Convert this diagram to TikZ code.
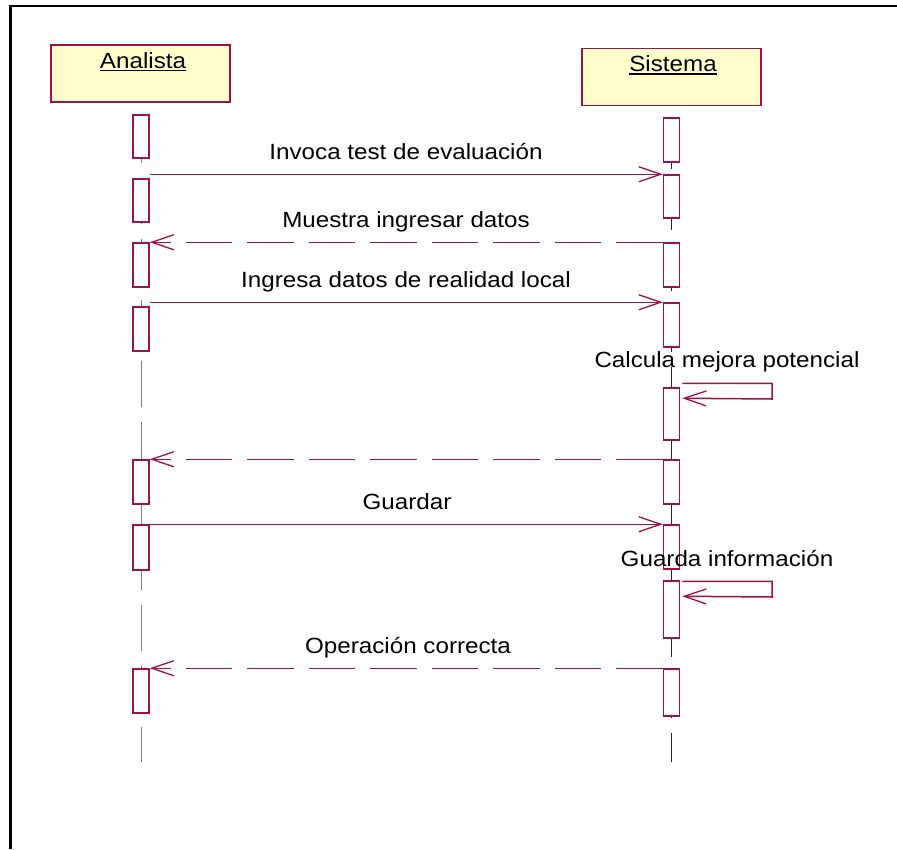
\documentclass[tikz,border=0pt]{standalone}
\usepackage{fontspec}
\setmainfont{Liberation Sans}[FakeStretch=1.1]
\usetikzlibrary{arrows.meta}
\definecolor{umlred}{RGB}{158,18,72}
\definecolor{objfill}{RGB}{255,255,204}
\tikzset{
  obj/.style={draw=umlred, fill=objfill, line width=1.5pt, minimum width=179pt, minimum height=57pt, inner sep=0pt},
  objname/.style={inner sep=0pt, anchor=base, font=\fontsize{22}{26}\selectfont},
  act/.style={draw=umlred, fill=white, line width=1.5pt, minimum width=16pt, inner sep=0pt},
  lifeA/.style={draw=black!50, line width=1.5pt, dash pattern=on 46pt off 15pt},
  lifeS/.style={draw=black!85, line width=1.4pt, dash pattern=on 46pt off 15pt},
  msg/.style={draw=umlred, line width=1.5pt, -{Straight Barb[length=22pt, width=15pt, line width=1.3pt]}},
  reply/.style={msg, dash pattern=on 46.5pt off 15pt},
  lbl/.style={inner sep=0pt, anchor=base, font=\fontsize{22}{26}\selectfont}
}
\begin{document}
\begin{tikzpicture}[x=1pt, y=-1pt]
\useasboundingbox (0,0) rectangle (897,849);
% outer frame (open on the right and bottom)
\draw[line width=2.5pt] (10.5,849) -- (10.5,6) -- (897,6);

% object headers
\node[obj] (A) at (140.5,73.5) {};
\node[objname] (At) at (143,68) {Analista};
\draw[line width=1.5pt] ([yshift=-2.5pt]At.base west) -- ([yshift=-2.5pt]At.base east);
\node[obj] (S) at (671.5,77) {};
\node[objname] (St) at (673,71.5) {Sistema};
\draw[line width=1.5pt] ([yshift=-2.5pt]St.base west) -- ([yshift=-2.5pt]St.base east);

% lifelines
\coordinate (Aend) at (141.5,762);
\coordinate (Send) at (671.5,762);
\draw[lifeA] (141.5,117) -- (Aend);
\draw[lifeS] (671.5,123) -- (Send);

% activation bars of Analista
\node[act, minimum height=43pt] (a1) at (141,136.5) {};
\node[act, minimum height=43pt] (a2) at (141,200.5) {};
\node[act, minimum height=44pt] (a3) at (141,265) {};
\node[act, minimum height=44pt] (a4) at (141,329) {};
\node[act, minimum height=44pt] (a5) at (141,482) {};
\node[act, minimum height=45pt] (a6) at (141,547.5) {};
\node[act, minimum height=44pt] (a7) at (141,691) {};

% activation bars of Sistema
\node[act, minimum height=44pt] (s1) at (671.5,140) {};
\node[act, minimum height=43pt] (s2) at (671.5,196.5) {};
\node[act, minimum height=44pt] (s3) at (671.5,265) {};
\node[act, minimum height=44pt] (s4) at (671.5,325) {};
\node[act, minimum height=52pt] (s5) at (671.5,414) {};
\node[act, minimum height=44pt] (s6) at (671.5,482) {};
\node[act, minimum height=44pt] (s7) at (671.5,547) {};
\node[act, minimum height=57pt] (s8) at (671.5,609.5) {};
\node[act, minimum height=47pt] (s9) at (671.5,692.5) {};

% messages
\draw[msg] (a1.east |- s2.north) -- (s2.north west);
\node[lbl] at (406,159) {Invoca test de evaluación};

\draw[reply] (s3.north west) -- (a3.north east);
\node[lbl] at (406,227) {Muestra ingresar datos};

\draw[msg] (a3.east |- s4.north) -- (s4.north west);
\node[lbl] at (406,287) {Ingresa datos de realidad local};

% self call: Calcula mejora potencial
\coordinate (loop1) at (772,399);
\draw[msg] ([shift={(2,-4)}]s5.north east) -| (loop1) -- ([shift={(2,11)}]s5.north east);
\node[lbl] at (727,367.5) {Calcula mejora potencial};

\draw[reply] (s6.north west) -- (a5.north east);

\draw[msg] (a5.east |- s7.north) -- (s7.north west);
\node[lbl] at (407,509) {Guardar};

% self call: Guarda información
\coordinate (loop2) at (772,597);
\draw[msg] ([shift={(2,1)}]s8.north east) -| (loop2) -- ([shift={(2,16)}]s8.north east);
\node[lbl] at (727,566) {Guarda información};

\draw[reply] (s9.north west) -- (a7.north east);
\node[lbl] at (408,653) {Operación correcta};
\end{tikzpicture}
\end{document}
